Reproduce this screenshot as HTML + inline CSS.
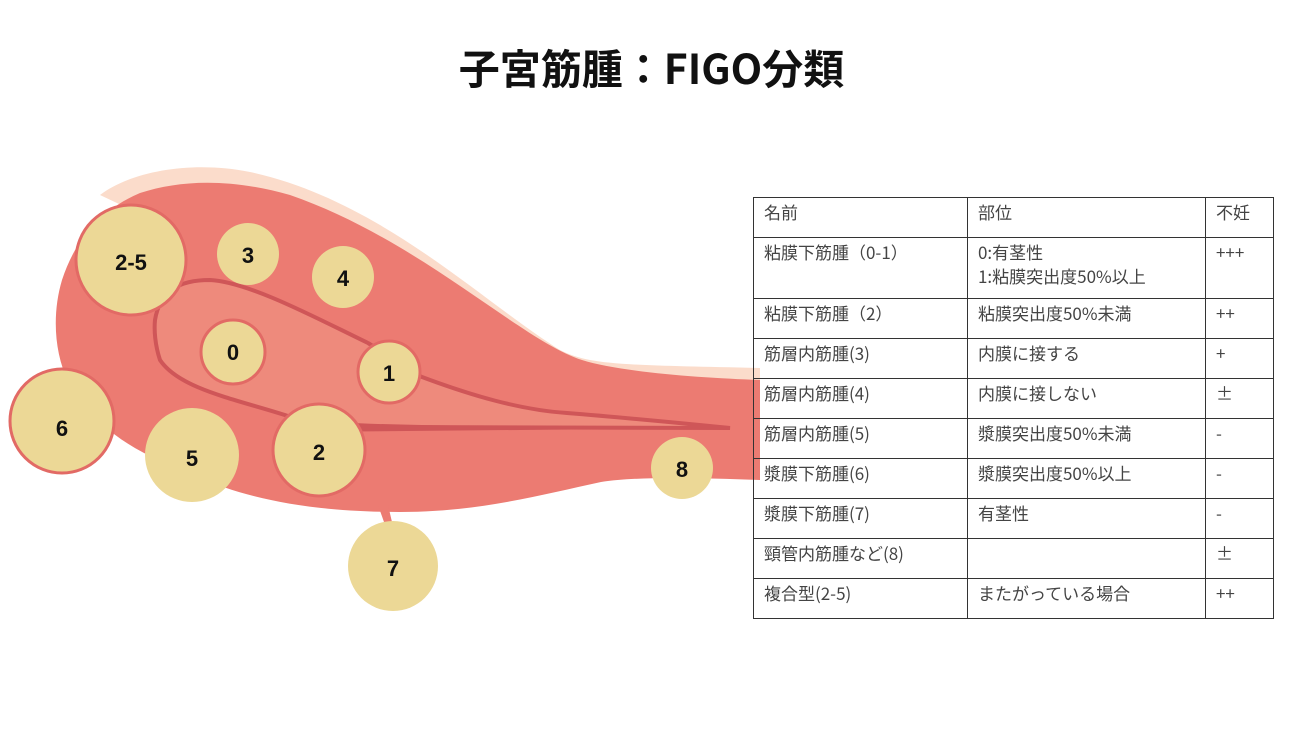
<!DOCTYPE html>
<html><head><meta charset="utf-8"><style>
body{margin:0;width:1303px;height:733px;background:#fff;position:relative;overflow:hidden;font-family:"Liberation Sans","Noto Sans CJK JP",sans-serif}
.t{position:absolute;top:38px;left:0;width:1303px;text-align:center;font-size:41px;font-weight:bold;color:#111;font-family:"Noto Sans CJK JP",sans-serif;line-height:56px}
table{position:absolute;left:753px;top:197px;border-collapse:collapse;font-size:17px;color:#444;font-family:"Noto Sans CJK JP",sans-serif}
td{border:1.5px solid #333;padding:2px 10px 0 10px;vertical-align:top;line-height:24px;box-sizing:border-box;white-space:nowrap}
</style></head><body>
<div class="t">子宮筋腫：FIGO分類</div>
<svg width="760" height="733" style="position:absolute;left:0;top:0">
<path d="M100,195 C130,172 190,160 250,172 C380,200 480,300 560,350 C590,365 620,365 760,368 L760,385 L500,385 Z" fill="#fbdccb"/>
<path d="M140,193 C180,180 230,178 290,195 C420,240 520,340 582,360 C620,372 700,378 760,380 L760,480 C700,478 640,476 601,482 C540,495 480,512 400,512 C300,512 240,495 200,478 C150,458 110,440 80,400 C55,370 50,320 62,280 C75,240 100,210 140,193 Z" fill="#ec7b72"/>
<path d="M155,320 C160,290 180,280 210,280 C250,282 320,320 368,343 C395,360 410,372 422,377 C470,395 520,410 567,413 C630,418 690,424 730,428 L364,427 C330,427 300,422 291,417 C240,400 180,390 160,360 C155,345 154,330 155,320 Z" fill="#ee8a7c" stroke="#cf5658" stroke-width="4"/>
<path d="M300,420 C400,428 600,426 730,428 L300,432 Z" fill="#cf5658"/>
<path d="M378,505 L384,522 L392,522 L388,505 Z" fill="#ec7b72"/>
<g fill="#ecd896" stroke="#e26a65" stroke-width="3">
<circle cx="131" cy="260" r="55"/>
<circle cx="62" cy="421" r="52"/>
<circle cx="248" cy="254" r="31" stroke="none"/>
<circle cx="343" cy="277" r="31" stroke="none"/>
<circle cx="233" cy="352" r="32"/>
<circle cx="389" cy="372" r="31"/>
<circle cx="192" cy="455" r="47" stroke="none"/>
<circle cx="319" cy="450" r="46"/>
<circle cx="682" cy="468" r="31" stroke="none"/>
<circle cx="393" cy="566" r="45" stroke="none"/>
</g>
<g font-family="Liberation Sans,sans-serif" font-size="22" font-weight="bold" fill="#111" text-anchor="middle">
<text x="131" y="270">2-5</text><text x="62" y="436">6</text><text x="248" y="263">3</text>
<text x="343" y="286">4</text><text x="233" y="360">0</text><text x="389" y="381">1</text>
<text x="192" y="466">5</text><text x="319" y="460">2</text><text x="682" y="477">8</text><text x="393" y="576">7</text>
</g>
</svg>
<table>
<tr style="height:40px"><td style="width:214px">名前</td><td style="width:238px">部位</td><td style="width:68px">不妊</td></tr>
<tr style="height:61px"><td>粘膜下筋腫（0-1）</td><td>0:有茎性<br>1:粘膜突出度50%以上</td><td>+++</td></tr>
<tr style="height:40px"><td>粘膜下筋腫（2）</td><td>粘膜突出度50%未満</td><td>++</td></tr>
<tr style="height:40px"><td>筋層内筋腫(3)</td><td>内膜に接する</td><td>+</td></tr>
<tr style="height:40px"><td>筋層内筋腫(4)</td><td>内膜に接しない</td><td>±</td></tr>
<tr style="height:40px"><td>筋層内筋腫(5)</td><td>漿膜突出度50%未満</td><td>-</td></tr>
<tr style="height:40px"><td>漿膜下筋腫(6)</td><td>漿膜突出度50%以上</td><td>-</td></tr>
<tr style="height:40px"><td>漿膜下筋腫(7)</td><td>有茎性</td><td>-</td></tr>
<tr style="height:40px"><td>頸管内筋腫など(8)</td><td></td><td>±</td></tr>
<tr style="height:40px"><td>複合型(2-5)</td><td>またがっている場合</td><td>++</td></tr>
</table>
</body></html>
